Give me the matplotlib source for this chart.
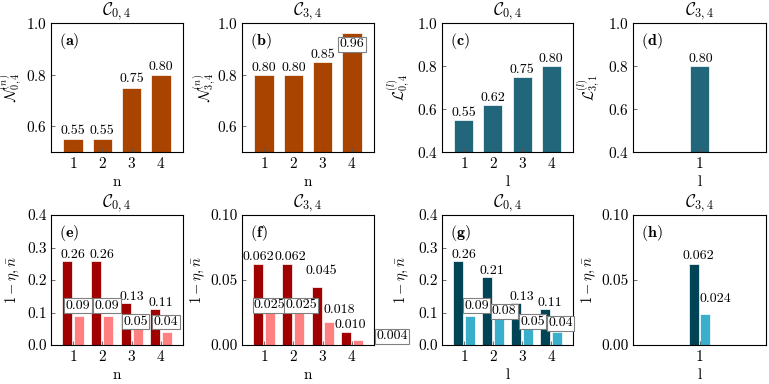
import numpy as np
import matplotlib
matplotlib.use("Agg")
import matplotlib.pyplot as plt

plt.rcParams['font.family'] = 'serif'
plt.rcParams['font.serif'] = ['cmr10']
plt.rcParams['mathtext.fontset'] = 'cm'
plt.rcParams['axes.formatter.use_mathtext'] = True
plt.rcParams['axes.unicode_minus'] = False

# data
n_vals = [1, 2, 3, 4]
l_vals = [1]

N_04 = [0.55, 0.55, 0.75, 0.80]
N_34 = [0.80, 0.80, 0.85, 0.96]
L_04 = [0.55, 0.62, 0.75, 0.80]
L_31 = [0.80]

eta_n04 = [0.26, 0.26, 0.13, 0.11]
nbar_n04 = [0.09, 0.09, 0.05, 0.04]
eta_n34 = [0.062, 0.062, 0.045, 0.010]
nbar_n34 = [0.025, 0.025, 0.018, 0.004]
eta_l04 = [0.26, 0.21, 0.13, 0.11]
nbar_l04 = [0.09, 0.08, 0.05, 0.04]
eta_l34 = [0.062]
nbar_l34 = [0.024]

# colours
BROWN = '#a84300'
TEAL = '#21667a'
RED_D, RED_L = '#a00000', '#ff8080'
TEAL_D, TEAL_L = '#004455', '#3aafcc'

# label placement (dx px from bar centre, baseline gap px above bar top, boxed)
lab_a = [(0, 5, 0)] * 4
lab_b = [(0, 4, 0), (0, 4, 0), (0, 4, 0), (0, -14, 1)]
lab_c = [(0, 4, 0)] * 4
lab_d = [(1, 4, 0)]
lab_e_d = [(6, 3, 0), (5.5, 3, 0), (6.5, 2.5, 0), (6, 3, 0)]
lab_e_l = [(-1, 7, 1), (-1, 7, 1), (-2, 4, 1), (-1, 7, 1)]
lab_f_d = [(0, 4.5, 0), (3, 4.5, 0), (4.5, 12.5, 0), (4, 4, 0)]
lab_f_l = [(0, 4, 1), (2, 4, 1), (10.5, 8.5, 0), (34, 0.5, 1)]
lab_g_d = [(5.5, 3, 0), (5, 2.5, 0), (5.5, 2.5, 0), (5, 3, 0)]
lab_g_l = [(7, 7, 1), (5.5, 4.5, 1), (4.5, 4, 1), (3.5, 5.5, 1)]
lab_h_d = [(4, 5.5, 0)]
lab_h_l = [(10.5, 12, 0)]

BOX = dict(boxstyle='square,pad=0.1', fc='white', ec='#808080', lw=0.8)

fig = plt.figure(figsize=(7.69, 3.84), dpi=100)

lefts = [51, 242, 442, 633]
widths = [132, 132, 131, 133]
row_b = [152, 345]
row_h = [129, 130]
# distance (px) from axes left to the right edge of each y label
ylab_gap = [[27, 24, 30, 31], [29, 35, 31, 35]]


def make_ax(r, c):
    W, H = 769, 384
    ax = fig.add_axes([lefts[c] / W, 1 - row_b[r] / H, widths[c] / W, row_h[r] / H])
    ax.yaxis.set_label_coords(-ylab_gap[r][c] / widths[c], 0.5)
    return ax


def label_bars(ax, xs, vals, fmt, specs):
    for x, v, (dx, dy, boxed) in zip(xs, vals, specs):
        ax.annotate(fmt % v, (x, v), xytext=(dx, dy), textcoords='offset pixels',
                    ha='center', va='baseline', fontsize=10,
                    bbox=BOX if boxed else None, annotation_clip=False, zorder=5)


def style(ax, title, ylabel, xlabel, tag, ylim, yticks, xlim, xticks):
    ax.set_title(title, fontsize=12.5, pad=3)
    ax.set_ylabel(ylabel, fontsize=10.5)
    ax.set_xlabel(xlabel, fontsize=11, labelpad=3)
    ax.set_ylim(*ylim)
    ax.set_yticks(yticks)
    ax.set_xlim(*xlim)
    ax.set_xticks(xticks)
    ax.tick_params(direction='in', length=3, width=0.6, labelsize=11, pad=3,
                   color='#555555')
    ax.text(0.06, 0.94, r'$\mathbf{(%s)}$' % tag, transform=ax.transAxes,
            ha='left', va='top', fontsize=11.5)


single_x = (-1.4, 3.4)
multi_x = (0.25, 4.75)
w1 = 0.65
w2 = 0.34
off = 0.2

# top row
ax = make_ax(0, 0)
ax.bar(n_vals, N_04, w1, color=BROWN, edgecolor='white', linewidth=0.5)
label_bars(ax, n_vals, N_04, '%.2f', lab_a)
style(ax, r'$\mathcal{C}_{0,4}$', r'$\mathcal{N}_{0,4}^{(n)}$', 'n', 'a',
      (0.5, 1.0), [0.6, 0.8, 1.0], multi_x, n_vals)

ax = make_ax(0, 1)
ax.bar(n_vals, N_34, w1, color=BROWN, edgecolor='white', linewidth=0.5)
label_bars(ax, n_vals, N_34, '%.2f', lab_b)
style(ax, r'$\mathcal{C}_{3,4}$', r'$\mathcal{N}_{3,4}^{(n)}$', 'n', 'b',
      (0.5, 1.0), [0.6, 0.8, 1.0], multi_x, n_vals)

ax = make_ax(0, 2)
ax.bar(n_vals, L_04, w1, color=TEAL, edgecolor='white', linewidth=0.5)
label_bars(ax, n_vals, L_04, '%.2f', lab_c)
style(ax, r'$\mathcal{C}_{0,4}$', r'$\mathcal{L}_{0,4}^{(l)}$', 'l', 'c',
      (0.4, 1.0), [0.4, 0.6, 0.8, 1.0], multi_x, n_vals)

ax = make_ax(0, 3)
ax.bar(l_vals, L_31, w1, color=TEAL, edgecolor='white', linewidth=0.5)
label_bars(ax, l_vals, L_31, '%.2f', lab_d)
style(ax, r'$\mathcal{C}_{3,4}$', r'$\mathcal{L}_{3,1}^{(l)}$', 'l', 'd',
      (0.4, 1.0), [0.4, 0.6, 0.8, 1.0], single_x, l_vals)

# bottom row
panels = [
    (0, n_vals, eta_n04, nbar_n04, RED_D, RED_L, '%.2f', lab_e_d, lab_e_l,
     r'$\mathcal{C}_{0,4}$', 'n', 'e', (0, 0.4), [0, 0.1, 0.2, 0.3, 0.4], multi_x),
    (1, n_vals, eta_n34, nbar_n34, RED_D, RED_L, '%.3f', lab_f_d, lab_f_l,
     r'$\mathcal{C}_{3,4}$', 'n', 'f', (0, 0.1), [0, 0.05, 0.10], multi_x),
    (2, n_vals, eta_l04, nbar_l04, TEAL_D, TEAL_L, '%.2f', lab_g_d, lab_g_l,
     r'$\mathcal{C}_{0,4}$', 'l', 'g', (0, 0.4), [0, 0.1, 0.2, 0.3, 0.4], multi_x),
    (3, l_vals, eta_l34, nbar_l34, TEAL_D, TEAL_L, '%.3f', lab_h_d, lab_h_l,
     r'$\mathcal{C}_{3,4}$', 'l', 'h', (0, 0.1), [0, 0.05, 0.10], single_x),
]

for c, xs, eta, nbar, cd, cl, fmt, ld, ll, title, xl, tag, ylim, yt, xlim in panels:
    ax = make_ax(1, c)
    x = np.array(xs)
    ax.bar(x - off, eta, w2, color=cd, edgecolor='white', linewidth=0.5)
    ax.bar(x + off, nbar, w2, color=cl, edgecolor='white', linewidth=0.5)
    label_bars(ax, x - off, eta, fmt, ld)
    label_bars(ax, x + off, nbar, fmt, ll)
    style(ax, title, r'$1-\eta,\bar{n}$', xl, tag, ylim, yt, xlim, xs)
    if ylim[1] < 0.2:
        ax.yaxis.set_major_formatter(matplotlib.ticker.FormatStrFormatter('%.2f'))
    else:
        ax.yaxis.set_major_formatter(matplotlib.ticker.FormatStrFormatter('%.1f'))

fig.savefig('out.png', dpi=100)
